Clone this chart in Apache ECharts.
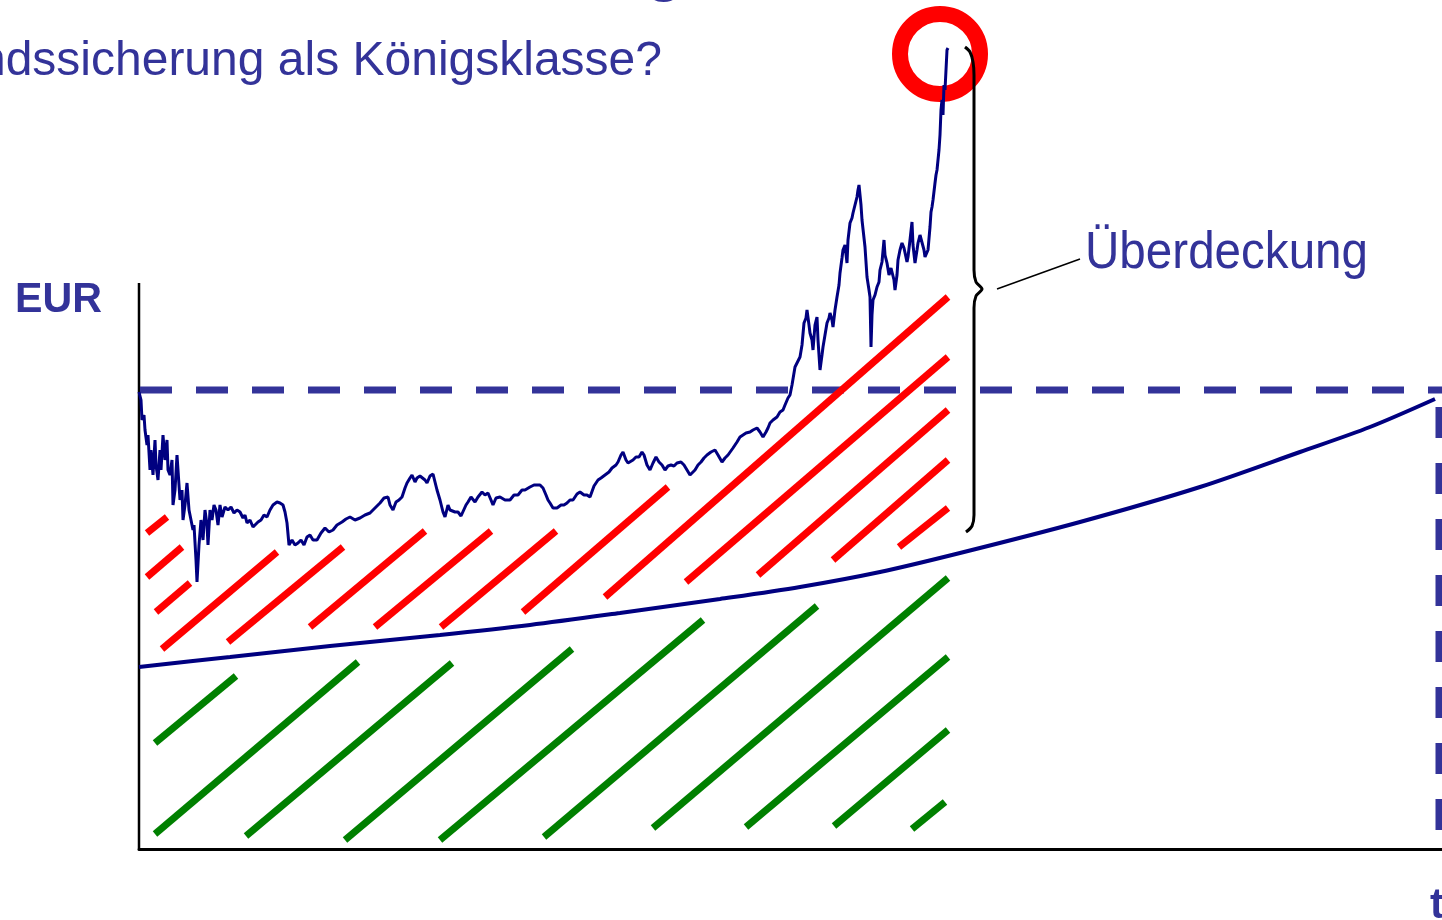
<!DOCTYPE html>
<html>
<head>
    <meta charset="utf-8">
    <script src="https://cdn.jsdelivr.net/npm/echarts@6/dist/echarts.min.js"></script>
    <style>
        body { margin: 0; background: #fff; }
        #main { width: 1442px; height: 920px; }
    </style>
</head>
<body>
<div id="main"></div>
<script type="text/javascript">
    // Kursverlauf [Tag, EUR]
    var pricePath = [
        [0,457],[2,449],[3,429],[5,434],[6,419],[8,404],[9,414],[11,379],[12,399],[14,374],
        [16,409],[17,384],[19,369],[21,399],[22,379],[24,414],[26,389],[28,409],[29,379],[31,374],
        [33,389],[34,344],[36,359],[38,394],[40,364],[41,349],[43,359],[44,329],[46,344],[48,366],
        [50,339],[52,329],[54,319],[55,324],[57,289],[58,267],[60,304],[62,329],[64,309],[66,339],
        [68,324],[69,304],[71,339],[73,329],[75,344],[77,339],[79,324],[81,344],[83,332],[86,342],
        [89,339],[92,342],[95,336],[98,339],[101,337],[104,331],[106,334],[108,326],[111,329],[114,322],
        [116,324],[119,327],[122,329],[125,334],[128,332],[131,339],[134,344],[138,347],[141,346],[144,344],
        [146,337],[148,326],[150,304],[153,309],[156,304],[159,306],[162,309],[165,304],[168,312],[171,314],
        [174,309],[178,309],[182,316],[186,321],[190,317],[194,319],[198,324],[203,327],[207,330],[211,332],
        [216,329],[221,331],[226,334],[231,336],[236,341],[241,346],[245,351],[249,352],[251,344],[254,339],
        [257,347],[260,349],[263,352],[266,361],[268,366],[271,371],[273,374],[276,367],[278,371],[281,373],
        [283,375],[286,369],[288,366],[291,373],[294,375],[296,367],[298,359],[301,349],[304,337],[306,332],
        [309,344],[311,339],[313,341],[316,337],[319,337],[322,333],[324,331],[327,344],[329,347],[332,352],
        [336,347],[339,352],[343,357],[346,354],[349,356],[352,349],[354,344],[357,351],[361,352],[366,349],
        [371,349],[375,354],[379,354],[383,359],[386,359],[391,362],[395,364],[398,364],[401,364],[404,361],
        [407,354],[409,349],[411,346],[414,341],[418,341],[422,344],[425,344],[428,346],[431,349],[434,349],
        [438,355],[441,357],[445,354],[448,354],[451,352],[455,363],[459,369],[462,371],[466,374],[470,377],
        [473,381],[477,384],[479,387],[482,394],[484,397],[487,389],[489,386],[491,384],[494,389],[497,392],
        [500,392],[503,397],[505,394],[508,384],[511,379],[514,386],[517,392],[520,387],[523,384],[526,379],
        [529,383],[532,384],[535,383],[538,386],[542,387],[545,384],[548,379],[551,374],[553,372],[556,379],
        [559,384],[562,387],[565,391],[568,394],[572,397],[576,399],[579,394],[583,387],[586,391],[589,394],
        [591,396],[594,401],[598,407],[601,412],[604,414],[607,416],[611,417],[614,419],[618,421],[621,417],
        [624,412],[627,417],[629,421],[631,426],[634,429],[638,432],[641,437],[644,439],[646,444],[648,444],
        [649,451],[651,454],[653,464],[654,466],[656,482],[658,484],[661,492],[663,504],[665,526],[667,531],
        [668,539],[670,524],[671,516],[673,509],[674,499],[676,524],[678,532],[679,509],[681,479],[683,494],
        [684,502],[686,514],[688,526],[690,531],[691,536],[693,529],[694,522],[696,539],[698,552],[700,564],
        [701,576],[703,591],[704,599],[706,604],[708,586],[709,609],[711,626],[713,631],[714,636],[716,644],
        [718,652],[719,659],[720,664],[722,644],[723,629],[725,611],[726,602],[728,572],[730,559],[731,552],
        [732,502],[733,534],[734,549],[736,554],[738,562],[740,567],[741,579],[743,587],[745,609],[746,594],
        [748,586],[750,574],[752,581],[753,579],[755,569],[756,559],[758,574],[759,589],[761,599],[763,606],
        [765,601],[766,599],[768,587],[769,592],[771,609],[773,627],[774,604],[776,586],[778,599],[779,606],
        [781,614],[783,612],[785,599],[786,592],[788,594],[789,599],[791,622],[792,637],[793,642],[794,649],
        [796,666],[797,674],[798,679],[799,689],[800,699],[801,714],[802,739],[803,749],[804,734],[805,764],
        [806,759],[807,779],[808,799],[809,801]
    ];

    // Garantiekurve (Floor) [Tag, EUR]
    var floorPath = [
        [0,182],[91,192],[191,203],[301,214],[391,224],[481,236],[581,250],[661,262],
        [741,277],[821,296],[941,327],[1061,362],[1161,397],[1231,422],[1296,450]
    ];

    var guaranteeLevel = 459;      // Garantieniveau (EUR)
    var horizonDay = 1300;         // Laufzeitende
    var peakPoint = [801, 795];    // Höchststand

    // Schraffur: [Tag1, EUR1, Tag2, EUR2]
    var redHatch = [
        [8,316,28,332],[8,272,43,302],[17,237,51,266],[23,200,138,297],[89,207,204,302],
        [171,222,286,318],[236,222,352,318],[302,222,417,318],[384,237,529,362],[466,252,809,552],
        [547,267,809,492],[619,274,809,439],[694,289,809,389],[760,302,809,341]
    ];
    var greenHatch = [
        [16,106,97,173],[16,15,219,187],[107,13,313,186],[206,9,433,200],[301,9,564,229],
        [405,12,678,243],[514,21,809,271],[607,22,809,192],[695,23,809,119],[773,20,806,47]
    ];

    // Klammer "Überdeckung"
    var bracePath = [
        [826,802],[831,797],[834,787],[835,774],[835,579],[837,567],[843,560],
        [837,553],[835,541],[835,334],[833,323],[827,317]
    ];
    var leaderPath = [[858,560],[941,590]];

    function toLines(list) {
        return list.map(function (s) { return { coords: [[s[0], s[1]], [s[2], s[3]]] }; });
    }

    var myChart = echarts.init(document.getElementById('main'));

    var option = {
        animation: false,
        grid: { left: 139, right: 0, top: 0, bottom: 71 },
        xAxis: {
            type: 'value', min: 0, max: 1303,
            axisLine: { show: true, lineStyle: { color: '#000', width: 3 } },
            axisTick: { show: false }, axisLabel: { show: false }, splitLine: { show: false }
        },
        yAxis: {
            type: 'value', min: 0, max: 849,
            axisLine: { show: false }, axisTick: { show: false },
            axisLabel: { show: false }, splitLine: { show: false }
        },
        graphic: [
            { type: 'text', x: 662, y: 62, scaleX: 1.0, z: 10,
              style: { text: 'Bestandssicherung als Königsklasse?', x: 0, y: 0,
                       font: 'normal 48px "Liberation Sans", Arial, sans-serif', fill: '#333399',
                       align: 'right', textAlign: 'right', verticalAlign: 'middle', textVerticalAlign: 'middle' } },
            { type: 'text', x: 645, y: -29, z: 10,
              style: { text: 'g', x: 0, y: 0,
                       font: 'bold 64px "Liberation Sans", Arial, sans-serif', fill: '#333399',
                       align: 'left', textAlign: 'left', verticalAlign: 'middle', textVerticalAlign: 'middle' } },
            { type: 'text', x: 15, y: 300, scaleX: 0.98, z: 10,
              style: { text: 'EUR', x: 0, y: 0,
                       font: 'bold 42px "Liberation Sans", Arial, sans-serif', fill: '#333399',
                       align: 'left', textAlign: 'left', verticalAlign: 'middle', textVerticalAlign: 'middle' } },
            { type: 'text', x: 1430, y: 906, z: 10,
              style: { text: 't', x: 0, y: 0,
                       font: 'bold 42px "Liberation Sans", Arial, sans-serif', fill: '#333399',
                       align: 'left', textAlign: 'left', verticalAlign: 'middle', textVerticalAlign: 'middle' } },
            { type: 'text', x: 1085, y: 254, scaleX: 0.915, z: 10,
              style: { text: 'Überdeckung', x: 0, y: 0,
                       font: 'normal 52px "Liberation Sans", Arial, sans-serif', fill: '#333399',
                       align: 'left', textAlign: 'left', verticalAlign: 'middle', textVerticalAlign: 'middle' } }
        ],
        series: [
            {   // roter Kreis am Hoch
                type: 'scatter', data: [peakPoint], symbol: 'circle', symbolSize: 80, z: 1,
                itemStyle: { color: 'rgba(0,0,0,0)', borderColor: '#ff0000', borderWidth: 16, opacity: 1 },
                silent: true
            },
            {   // y-Achse
                type: 'line', data: [[0, 0], [0, 566]], symbol: 'none', clip: false, z: 2,
                lineStyle: { color: '#000', width: 2.5 }
            },
            {
                type: 'lines', coordinateSystem: 'cartesian2d', data: toLines(greenHatch), z: 3,
                lineStyle: { color: '#008000', width: 7, opacity: 1, cap: 'butt' }, silent: true
            },
            {
                type: 'line', data: [[1, guaranteeLevel], [1303, guaranteeLevel]], symbol: 'none', clip: false, z: 3,
                lineStyle: { color: '#333399', width: 7, type: [32, 24] }
            },
            {
                type: 'line', data: [[horizonDay, 442], [horizonDay, 19]], symbol: 'none', clip: false, z: 3,
                lineStyle: { color: '#333399', width: 7, type: [31, 25] }
            },
            {
                type: 'lines', coordinateSystem: 'cartesian2d', data: toLines(redHatch), z: 4,
                lineStyle: { color: '#ff0000', width: 7, opacity: 1, cap: 'butt' }, silent: true
            },
            {
                type: 'line', data: floorPath, symbol: 'none', smooth: 0.3, z: 5,
                lineStyle: { color: '#000080', width: 4 }
            },
            {
                type: 'line', data: pricePath, symbol: 'none', z: 6,
                lineStyle: { color: '#000080', width: 3 }
            },
            {
                type: 'line', data: bracePath, symbol: 'none', smooth: 0.3, z: 7,
                lineStyle: { color: '#000', width: 3 }
            },
            {
                type: 'line', data: leaderPath, symbol: 'none', z: 7,
                lineStyle: { color: '#000', width: 1.5 }
            }
        ]
    };

    myChart.setOption(option);
</script>
</body>
</html>
